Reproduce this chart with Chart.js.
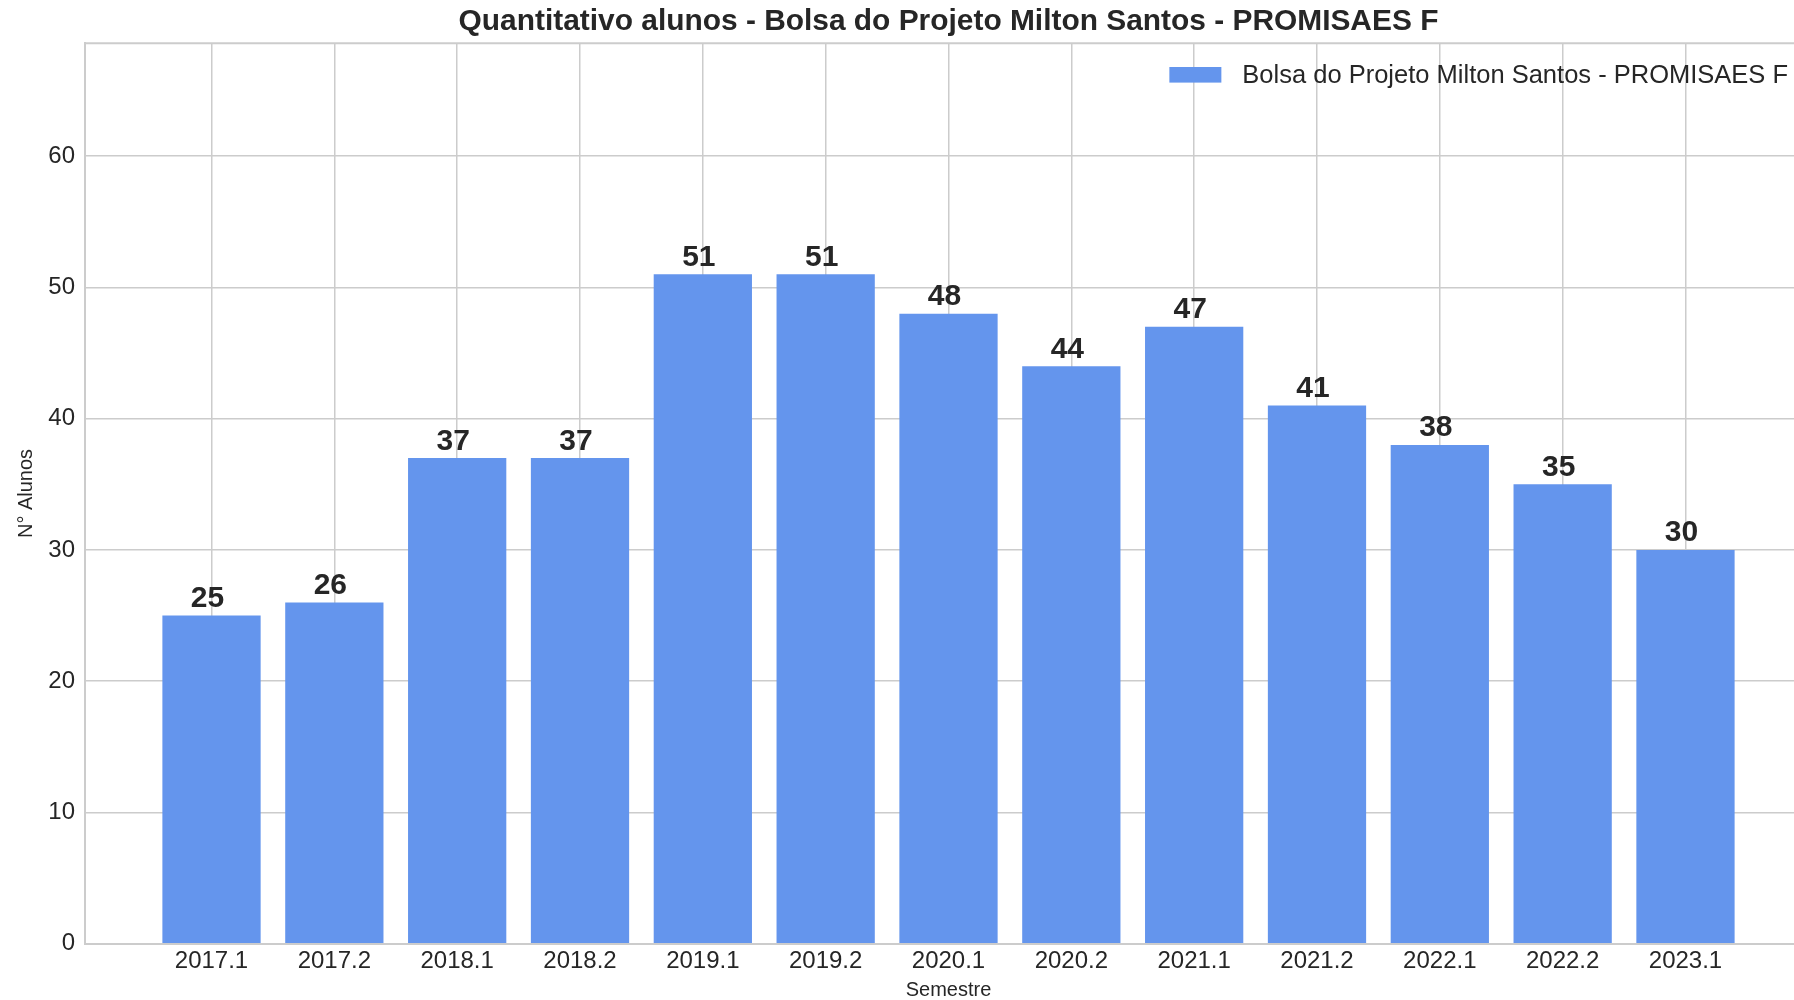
<!DOCTYPE html>
<html>
<head>
<meta charset="utf-8">
<script src="https://cdn.jsdelivr.net/npm/chart.js@4"></script>
<style>
    body { margin: 0; overflow: hidden; background: #fff; }
    #grafica { position: relative; width: 1812px; height: 1000px; }
</style>
</head>
<body>
<div id="grafica"><canvas id="myChart"></canvas></div>
<script>
// dados do grafico
var semestres = ['2017.1', '2017.2', '2018.1', '2018.2', '2019.1', '2019.2', '2020.1',
    '2020.2', '2021.1', '2021.2', '2022.1', '2022.2', '2023.1']
var alunos = [25, 26, 37, 37, 51, 51, 48, 44, 47, 41, 38, 35, 30]
var ticks_y = [0, 10, 20, 30, 40, 50, 60]

var cor_barra = '#6495ED'
var cor_texto = '#262626'
var cor_grade = '#cccccc'
var fonte = "'Liberation Sans', Arial, sans-serif"

// numeros em cima das barras + legenda + borda de cima
var extras = {
    id: 'extras',
    afterDatasetsDraw: function (chart) {
        var ctx = chart.ctx
        var area = chart.chartArea
        ctx.save()

        ctx.strokeStyle = cor_grade
        ctx.lineWidth = 2
        ctx.beginPath()
        ctx.moveTo(area.left, area.top)
        ctx.lineTo(area.right, area.top)
        ctx.stroke()

        ctx.fillStyle = cor_texto
        ctx.font = 'bold 30px ' + fonte
        ctx.textAlign = 'center'
        ctx.textBaseline = 'alphabetic'
        chart.getDatasetMeta(0).data.forEach(function (barra, i) {
            ctx.fillText(alunos[i], barra.x - 4, barra.y - 8.5)
        })

        var label = chart.data.datasets[0].label
        ctx.font = '25.5px ' + fonte
        ctx.textAlign = 'right'
        ctx.textBaseline = 'middle'
        var fim = area.right - 24
        var largura = ctx.measureText(label).width
        ctx.fillText(label, fim, 75.5)
        ctx.fillStyle = cor_barra
        ctx.fillRect(fim - largura - 21 - 52, 67, 52, 15.6)
        ctx.restore()
    }
}

var ctx = document.getElementById('myChart').getContext('2d')
new Chart(ctx, {
    type: 'bar',
    data: {
        datasets: [{
            label: 'Bolsa do Projeto Milton Santos - PROMISAES F',
            data: alunos.map(function (v, i) { return { x: i, y: v } }),
            backgroundColor: cor_barra,
            categoryPercentage: 1.0,
            barPercentage: 0.8
        }]
    },
    options: {
        responsive: true,
        maintainAspectRatio: false,
        animation: false,
        layout: { padding: 0 },
        plugins: {
            legend: { display: false },
            tooltip: { enabled: false },
            title: {
                display: true,
                fullSize: false,
                text: 'Quantitativo alunos - Bolsa do Projeto Milton Santos - PROMISAES F',
                color: cor_texto,
                font: { family: fonte, size: 29.9, weight: 'bold', lineHeight: 1.2 },
                padding: { top: 3.8, bottom: 3.6 }
            }
        },
        scales: {
            x: {
                type: 'linear',
                min: -1.03,
                max: 13.03,
                offset: false,
                afterBuildTicks: function (scale) {
                    scale.ticks = semestres.map(function (s, i) { return { value: i } })
                },
                afterFit: function (scale) { scale.height = 56.3 },
                ticks: {
                    callback: function (v) { return semestres[v] },
                    color: cor_texto,
                    font: { family: fonte, size: 24 },
                    padding: 3,
                    maxRotation: 0,
                    autoSkip: false
                },
                grid: { offset: false, color: cor_grade, lineWidth: 1.5, drawTicks: false, tickLength: 0 },
                border: { color: cor_grade, width: 2 },
                title: {
                    display: true,
                    text: 'Semestre',
                    color: cor_texto,
                    font: { family: fonte, size: 20, lineHeight: 1.0 },
                    padding: { top: 0, bottom: 0 }
                }
            },
            y: {
                min: 0,
                max: 68.6,
                afterBuildTicks: function (scale) {
                    scale.ticks = ticks_y.map(function (v) { return { value: v } })
                },
                afterFit: function (scale) { scale.width = 85 },
                ticks: {
                    color: cor_texto,
                    font: { family: fonte, size: 24 },
                    padding: 10
                },
                grid: { color: cor_grade, lineWidth: 1.5, drawTicks: false, tickLength: 0 },
                border: { color: cor_grade, width: 2 },
                title: {
                    display: true,
                    text: 'N° Alunos',
                    color: cor_texto,
                    font: { family: fonte, size: 20, lineHeight: 1.2 },
                    padding: { top: 14, bottom: 0 }
                }
            }
        }
    },
    plugins: [extras]
});
</script>
</body>
</html>
